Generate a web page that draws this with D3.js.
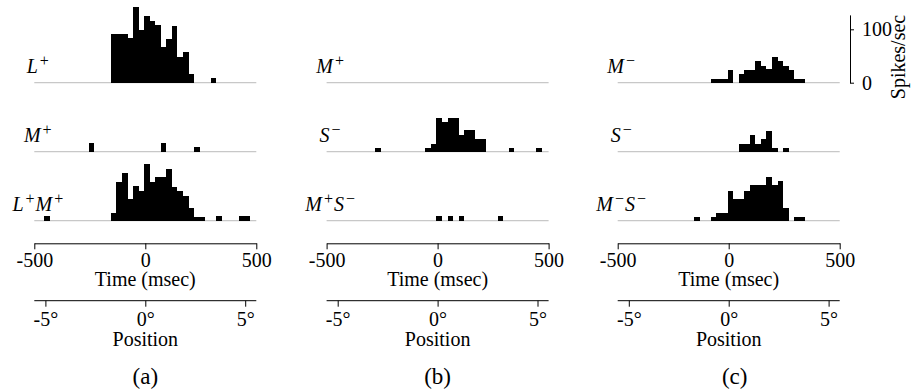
<!DOCTYPE html>
<html>
<head>
<meta charset="utf-8">
<script src="https://cdn.jsdelivr.net/npm/d3@7"></script>
<style>
  body { margin: 0; background: #fff; }
  svg, svg text { font-family: "Liberation Serif", "DejaVu Serif", serif; fill: #000; }
</style>
</head>
<body>
<svg id="chart" width="911" height="392"></svg>
<script>
// bins are 25 msec wide, each histogram gives the start of its first bin (msec)
const BIN = 25;

const panelNames = ["(a)", "(b)", "(c)"];

// row labels: [letter, sign] pairs
const labelsA = [[["L", "+"]], [["M", "+"]], [["L", "+"], ["M", "+"]]];
const labelsB = [[["M", "+"]], [["S", "\u2212"]], [["M", "+"], ["S", "\u2212"]]];
const labelsC = [[["M", "\u2212"]], [["S", "\u2212"]], [["M", "\u2212"], ["S", "\u2212"]]];

// firing rates (spikes/sec)
const histA = [
  { start: -155, rates: [91, 91, 91, 83, 141, 99, 124, 116, 108, 66, 82, 107, 49, 57, 16, 0, 0, 0, 8] },
  { start: -255, rates: [16, 0, 0, 0, 0, 0, 0, 0, 0, 0, 0, 0, 0, 16, 0, 0, 0, 0, 0, 8] },
  { start: -455, rates: [8, 0, 0, 0, 0, 0, 0, 0, 0, 0, 0, 0, 14, 73, 90, 40, 65, 56, 106, 73, 81, 81, 97, 64, 56, 47, 23, 7, 7, 0, 0, 8, 0, 0, 0, 8, 8] }
];
const histB = [
  { start: 0, rates: [] },
  { start: -280, rates: [7, 0, 0, 0, 0, 0, 0, 0, 0, 7, 14, 64, 56, 64, 64, 32, 41, 41, 24, 24, 0, 0, 0, 0, 7, 0, 0, 0, 0, 7] },
  { start: -5, rates: [8, 0, 8, 0, 8, 0, 0, 0, 0, 0, 0, 8] }
];
const histC = [
  { start: -80, rates: [7, 7, 7, 23, 0, 16, 23, 23, 40, 32, 25, 49, 40, 32, 23, 7, 7] },
  { start: 45, rates: [14, 14, 31, 14, 24, 39, 7, 0, 7] },
  { start: -155, rates: [7, 0, 0, 7, 15, 15, 56, 40, 40, 56, 66, 66, 66, 81, 66, 74, 23, 0, 7, 7] }
];

const timeTicks = [-500, -400, -300, -200, -100, 0, 100, 200, 300, 400, 500];
const timeMajor = [-500, 0, 500];
const posTicks = [-5, -4, -3, -2, -1, 0, 1, 2, 3, 4, 5];
const posMajor = [-5, 0, 5];
const rateTicks = [0, 100];

const panels = [
  { hist: histA, labels: labelsA, left: 34.3 },
  { hist: histB, labels: labelsB, left: 326.6 },
  { hist: histC, labels: labelsC, left: 617.7 }
];
const nameOffset = [0, 0, 6];

const rowBase = [82.7, 151.7, 220.7];
const timeAxisY = 243.3, posAxisY = 300.7;
const SERIF = '"Liberation Serif", "DejaVu Serif", serif';

const svg = d3.select("#chart");

let x = d3.scaleLinear().domain([-500, 500]).range([0, 222]);
// 5 degrees of position corresponds to 450 msec
let pos = d3.scaleLinear().domain([-5, 5]).range([x(-450), x(450)]);
let h = d3.scaleLinear().domain([0, 100]).range([0, 53.4]);

function drawLabel(g, parts, cx, y) {
  let t = g.append("text")
    .attr("x", cx)
    .attr("y", y)
    .attr("text-anchor", "middle")
    .attr("font-family", SERIF)
    .style("font-size", "20px");
  parts.forEach(function(p, i) {
    t.append("tspan")
      .attr("font-style", "italic")
      .attr("dy", i == 0 ? 0 : 7)
      .attr("dx", i == 0 ? 0 : 1)
      .text(p[0]);
    t.append("tspan")
      .attr("dy", -7)
      .attr("dx", 2)
      .style("font-size", "16px")
      .text(p[1]);
  });
}

panels.forEach(function(panel, pi) {
  let g = svg.append("g").attr("transform", `translate(${panel.left}, 0)`);

  panel.hist.forEach(function(hd, ri) {
    let base = rowBase[ri];
    g.append("line")
      .attr("x1", x(-500)).attr("x2", x(500))
      .attr("y1", base).attr("y2", base)
      .attr("stroke", "#c8c8c8")
      .attr("stroke-width", 1.3);

    let bins = hd.rates.map(function(r, i) { return { t: hd.start + i * BIN, r: r }; })
      .filter(function(d) { return d.r > 0; });

    g.selectAll(null).data(bins).enter()
      .append("rect")
      .attr("x", function(d) { return x(d.t); })
      .attr("width", x(BIN) - x(0))
      .attr("y", function(d) { return base - h(d.r); })
      .attr("height", function(d) { return h(d.r); })
      .attr("fill", "#000")
      .attr("shape-rendering", "crispEdges");

    drawLabel(g, panel.labels[ri], 3.5, base - 9.5);
  });

  // time axis
  let tg = g.append("g").attr("transform", `translate(0, ${timeAxisY})`);
  tg.call(d3.axisBottom(x).tickValues(timeTicks).tickSize(3).tickSizeOuter(0).tickFormat(""));
  tg.call(d3.axisBottom(x).tickValues(timeMajor).tickSize(6).tickSizeOuter(0).tickPadding(4)
    .tickFormat(function(d) { return d < 0 ? "-" + Math.abs(d) : d; }));
  tg.attr("font-family", SERIF);
  tg.selectAll("text").style("font-size", "20px");

  g.append("text")
    .attr("x", x(0)).attr("y", 286)
    .attr("text-anchor", "middle")
    .attr("font-family", SERIF)
    .style("font-size", "20px")
    .text("Time (msec)");

  // position axis
  let pg = g.append("g").attr("transform", `translate(0, ${posAxisY})`);
  pg.append("line")
    .attr("x1", x(-500)).attr("x2", x(500))
    .attr("stroke", "#000").attr("stroke-width", 1);
  pg.call(d3.axisBottom(pos).tickValues(posTicks).tickSize(3).tickSizeOuter(0).tickFormat(""));
  pg.call(d3.axisBottom(pos).tickValues(posMajor).tickSize(6).tickSizeOuter(0).tickPadding(4.8)
    .tickFormat(function(d) { return (d < 0 ? "-" + Math.abs(d) : d) + "\u00b0"; }));
  pg.selectAll(".domain").remove();
  pg.attr("font-family", SERIF);
  pg.selectAll("text").style("font-size", "20px");

  g.append("text")
    .attr("x", x(0)).attr("y", 345.5)
    .attr("text-anchor", "middle")
    .attr("font-family", SERIF)
    .style("font-size", "20px")
    .text("Position");

  g.append("text")
    .attr("x", x(0) + nameOffset[pi]).attr("y", 384)
    .attr("text-anchor", "middle")
    .attr("font-family", SERIF)
    .style("font-size", "23px")
    .text(panelNames[pi]);
});

// rate scale bar
let yRate = d3.scaleLinear().domain([0, 127]).range([rowBase[0], rowBase[0] - h(127)]);
let sg = svg.append("g").attr("transform", "translate(850, 0)");
sg.call(d3.axisRight(yRate).tickValues(rateTicks).tickSize(4).tickSizeOuter(0).tickPadding(8));
sg.attr("font-family", SERIF);
sg.selectAll("text").style("font-size", "20px");

svg.append("text")
  .attr("transform", "translate(905, 57) rotate(-90)")
  .attr("text-anchor", "middle")
  .attr("font-family", SERIF)
  .style("font-size", "20px")
  .text("Spikes/sec");
</script>
</body>
</html>
